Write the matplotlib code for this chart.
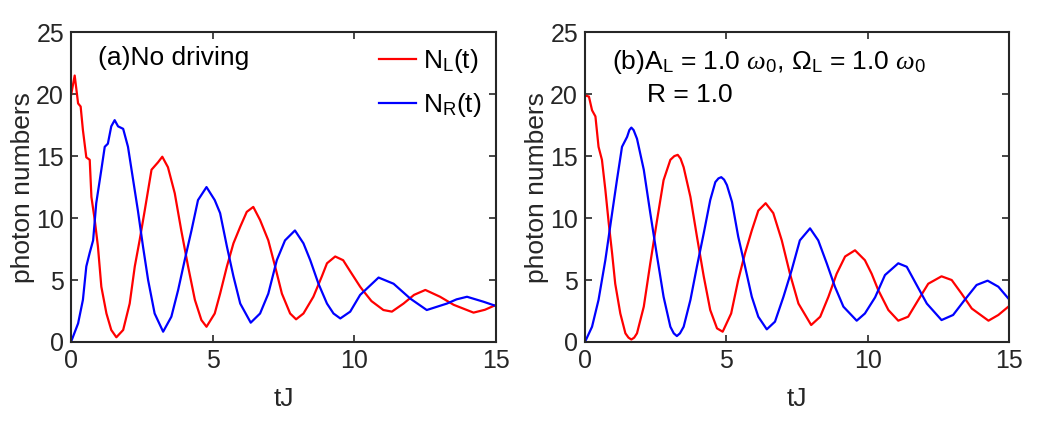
import matplotlib
matplotlib.use("Agg")
import matplotlib.pyplot as plt

plt.rcParams['font.family'] = ['Liberation Sans', 'DejaVu Sans']
plt.rcParams['mathtext.fontset'] = 'custom'
plt.rcParams['mathtext.rm'] = 'Liberation Sans'
plt.rcParams['mathtext.it'] = 'Liberation Serif:italic'

# panel (a): no driving
ta_L = [0, 0.13, 0.25, 0.34, 0.42, 0.54, 0.66, 0.72, 0.84, 0.95, 1.07, 1.25, 1.42, 1.6, 1.84,
        2.07, 2.25, 2.42, 2.6, 2.84, 3.07, 3.22, 3.42, 3.66, 3.89, 4.13, 4.37, 4.6, 4.78, 5.07,
        5.26, 5.5, 5.73, 5.97, 6.2, 6.43, 6.67, 6.96, 7.2, 7.44, 7.73, 7.94, 8.2, 8.55, 8.85,
        9.03, 9.32, 9.6, 9.85, 10.2, 10.32, 10.6, 11.02, 11.32, 11.73, 12.1, 12.5, 13.02, 13.5,
        14.2, 14.6, 15.0]
na_L = [19.9, 21.5, 19.25, 19.0, 17.1, 14.9, 14.7, 11.7, 9.8, 7.7, 4.46, 2.3, 0.97, 0.38, 0.97,
        3.1, 6.1, 8.2, 10.6, 13.9, 14.5, 14.95, 14.1, 12.0, 9.0, 6.1, 3.4, 1.77, 1.23, 2.3,
        3.9, 6.1, 7.96, 9.3, 10.5, 10.9, 9.84, 8.2, 6.1, 3.9, 2.3, 1.83, 2.3, 3.65, 5.3,
        6.35, 6.9, 6.6, 5.7, 4.46, 4.1, 3.3, 2.58, 2.45, 3.1, 3.8, 4.2, 3.65, 3.0,
        2.37, 2.6, 3.0]

ta_R = [0, 0.25, 0.42, 0.54, 0.66, 0.78, 0.89, 1.07, 1.19, 1.3, 1.42, 1.54, 1.66, 1.84, 2.01,
        2.19, 2.36, 2.54, 2.72, 2.95, 3.25, 3.54, 3.78, 4.01, 4.25, 4.48, 4.78, 5.07, 5.26,
        5.5, 5.73, 5.97, 6.34, 6.67, 6.96, 7.26, 7.55, 7.9, 8.2, 8.44, 8.73, 9.03, 9.26, 9.5,
        9.85, 10.2, 10.85, 11.38, 11.97, 12.55, 13.26, 13.6, 13.97, 14.55, 15.0]
na_R = [0, 1.5, 3.4, 6.1, 7.2, 8.2, 11.2, 13.9, 15.75, 16.0, 17.4, 17.9, 17.4, 17.2, 15.75,
        13.1, 10.6, 7.7, 5.0, 2.3, 0.83, 2.04, 4.2, 6.6, 9.0, 11.45, 12.5, 11.45, 10.4,
        7.7, 5.3, 3.1, 1.56, 2.3, 3.9, 6.6, 8.2, 9.0, 7.96, 6.6, 4.7, 3.1, 2.3, 1.9,
        2.45, 3.8, 5.2, 4.7, 3.5, 2.58, 3.1, 3.44, 3.65, 3.25, 2.9]

# panel (b): A_L = 1.0 w0, Omega_L = 1.0 w0, R = 1.0
tb_L = [0, 0.14, 0.25, 0.37, 0.48, 0.6, 0.72, 0.84, 0.96, 1.07, 1.25, 1.43, 1.54, 1.64, 1.74,
        1.84, 2.08, 2.31, 2.55, 2.78, 3.02, 3.16, 3.28, 3.38, 3.49, 3.73, 3.96, 4.2, 4.43, 4.67,
        4.87, 5.17, 5.42, 5.66, 5.9, 6.13, 6.39, 6.66, 6.96, 7.25, 7.55, 8.0, 8.32, 8.61, 8.9,
        9.2, 9.55, 9.9, 10.14, 10.37, 10.73, 11.08, 11.43, 11.79, 12.14, 12.61, 12.97, 13.32,
        13.68, 14.27, 14.62, 15.0]
nb_L = [19.9, 19.8, 18.7, 18.2, 15.75, 14.7, 12.3, 9.6, 7.15, 4.7, 2.3, 0.7, 0.35, 0.2, 0.35,
        0.7, 2.85, 6.35, 9.84, 13.06, 14.7, 15.0, 15.1, 14.8, 14.1, 11.7, 8.5, 5.3, 2.58, 1.1,
        0.83, 2.3, 5.0, 7.15, 9.0, 10.6, 11.2, 10.4, 8.2, 5.5, 3.1, 1.37, 2.04, 3.65, 5.5,
        6.9, 7.4, 6.6, 5.5, 4.2, 2.58, 1.72, 2.04, 3.4, 4.7, 5.3, 5.0, 3.9,
        2.7, 1.72, 2.18, 2.9]

tb_R = [0, 0.25, 0.48, 0.72, 0.96, 1.13, 1.31, 1.49, 1.57, 1.64, 1.72, 1.84, 2.08, 2.31, 2.55,
        2.78, 3.02, 3.14, 3.25, 3.36, 3.49, 3.73, 3.96, 4.2, 4.43, 4.61, 4.72, 4.82, 4.92, 5.02,
        5.2, 5.42, 5.66, 5.9, 6.13, 6.43, 6.72, 7.02, 7.31, 7.6, 7.96, 8.25, 8.55, 8.84, 9.14,
        9.61, 9.9, 10.26, 10.61, 11.08, 11.38, 11.73, 12.09, 12.61, 13.02, 13.43, 13.85, 14.24,
        14.62, 15.0]
nb_R = [0, 1.23, 3.4, 6.6, 10.4, 13.06, 15.75, 16.55, 17.1, 17.3, 17.1, 16.4, 13.9, 10.4, 6.9,
        3.65, 1.23, 0.7, 0.48, 0.7, 1.23, 3.4, 6.1, 8.77, 11.45, 12.9, 13.2, 13.3, 13.1, 12.66,
        11.3, 8.5, 6.1, 3.65, 2.04, 1.02, 1.64, 3.65, 5.8, 8.2, 9.17, 8.2, 6.35, 4.46, 2.85,
        1.72, 2.3, 3.6, 5.4, 6.35, 6.07, 4.6, 3.1, 1.77, 2.18, 3.4, 4.6, 4.95,
        4.46, 3.44]

xticks = [0, 5, 10, 15]
yticks = [0, 5, 10, 15, 20, 25]

fig = plt.figure(figsize=(10.63, 4.37), dpi=100)
ax1 = fig.add_axes([0.0668, 0.2174, 0.400, 0.709])
ax2 = fig.add_axes([0.5503, 0.2174, 0.399, 0.709])

for ax in (ax1, ax2):
    ax.set_xlim(0, 15)
    ax.set_ylim(0, 25)
    ax.set_xticks(xticks)
    ax.set_yticks(yticks)
    ax.tick_params(direction='in', top=True, right=True, labelsize=18,
                   length=5, width=1.2, colors='#262626', pad=5)
    for s in ax.spines.values():
        s.set_linewidth(1.5)
        s.set_color('#262626')
    ax.set_xlabel('tJ', fontsize=19, color='#262626', labelpad=10)
    ax.set_ylabel('photon numbers', fontsize=19, color='#262626', labelpad=1)

ax1.plot(ta_L, na_L, color='red', lw=1.6, label=r'N$_\mathrm{L}$(t)')
ax1.plot(ta_R, na_R, color='blue', lw=1.6, label=r'N$_\mathrm{R}$(t)')
ax1.text(0.064, 0.915, '(a)No driving', transform=ax1.transAxes, fontsize=19,
         va='center', ha='left')
ax1.legend(loc='upper right', frameon=False, fontsize=19, handlelength=1.4,
           handletextpad=0.25, borderaxespad=0.0, labelspacing=0.6,
           bbox_to_anchor=(0.99, 0.985))

ax2.plot(tb_L, nb_L, color='red', lw=1.6)
ax2.plot(tb_R, nb_R, color='blue', lw=1.6)
ax2.text(0.064, 0.905, r'(b)A$_\mathrm{L}$ = 1.0 $\omega_\mathrm{0}$, $\Omega_\mathrm{L}$ = 1.0 $\omega_\mathrm{0}$',
         transform=ax2.transAxes, fontsize=19, va='center', ha='left')
ax2.text(0.146, 0.797, 'R = 1.0', transform=ax2.transAxes, fontsize=19,
         va='center', ha='left')

fig.savefig('out.png', dpi=100)
